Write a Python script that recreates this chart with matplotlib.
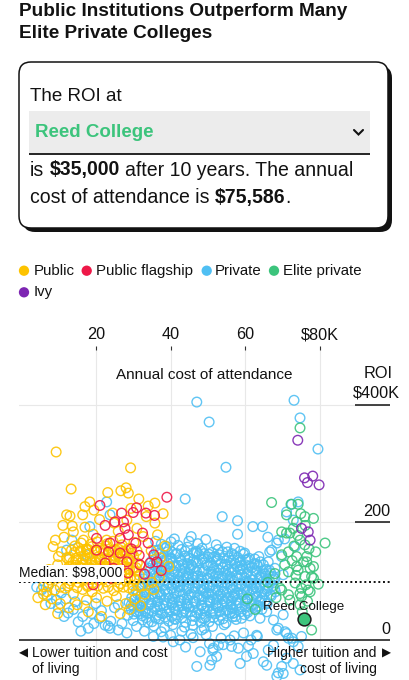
import matplotlib
matplotlib.use("Agg")
import matplotlib.pyplot as plt
from matplotlib.patches import FancyBboxPatch, Rectangle

plt.rcParams['font.family'] = ['Liberation Sans', 'DejaVu Sans']

# ---------------- data (annual cost $K, 10-year ROI $K) ----------------
x_ticks = [20, 40, 60, 80]
x_tick_labels = ['20', '40', '60', '$80K']
median_roi = 98
reed_cost = 75.6
reed_roi = 35

public_cost = [
    9.4, 29.3, 13.4, 23.2, 26.7, 28.7, 28.1, 18.4, 17.1, 16.5,
    19.5, 24.5, 29.4, 35.8, 13.1, 13.7, 14.0, 17.1, 19.3, 24.9,
    28.3, 32.7, 35.8, 36.5, 16.7, 14.4, 17.6, 22.9, 33.5, 31.0,
    38.5, 37.2, 39.5, 34.8, 21.0, 26.0, 11.5, 10.8, 12.2, 9.8,
    11.0, 8.5, 7.2, 9.0, 6.0, 8.2, 10.5, 12.8, 15.0, 17.5,
    20.2, 23.0, 25.5, 28.0, 30.5, 33.0, 35.5, 14.0, 11.8, 16.5,
    19.0, 22.0, 24.8, 27.4, 30.0, 32.5, 35.0, 37.0, 13.0, 18.0,
    21.5, 26.5, 29.0, 32.0, 6.5, 4.5, 9.8, 31.5, 34.0, 38.0,
    8.6, 10.0, 7.8, 6.9, 6.0, 12.2, 9.2, 7.5, 11.2, 10.2,
    13.2, 15.4, 16.9, 19.1, 20.6, 22.8, 24.3, 26.6, 28.1, 30.4,
    12.4, 14.1, 16.3, 18.0, 20.2, 21.7, 23.9, 25.5, 27.8, 29.3, 31.6,
    13.7, 15.2, 17.6, 19.0, 21.4, 23.0, 25.1, 26.8, 29.0, 30.6,
    12.8, 14.6, 16.2, 18.7, 20.1, 22.5, 24.0, 26.3, 27.9, 30.0, 31.9,
    13.9, 15.9, 17.4, 19.8, 21.2, 23.5, 25.0, 27.3, 28.9, 31.1,
    13.0, 14.8, 17.0, 18.5, 20.8, 22.4, 24.7, 26.1, 28.5, 30.1,
    14.3, 16.0, 18.2, 19.7, 22.0, 23.6, 25.8, 27.4, 29.6,
    15.3, 17.5, 19.0, 21.3, 22.9, 25.2, 26.7, 28.9,
    16.1, 18.6, 20.4, 23.1, 24.6, 27.0, 30.2,
    14.5, 17.9, 21.9, 25.9, 29.9, 16.5, 20.0, 24.0, 28.0, 31.0,
    14.0, 16.0, 18.2, 20.0, 22.0, 24.0, 26.0, 28.5, 30.5,
    12.5, 14.5, 16.8, 18.6, 20.6, 22.6, 24.6, 26.5, 28.6, 30.8,
    12.8, 14.9, 16.6, 18.9, 21.0, 22.9, 25.0, 26.9, 29.0,
    13.5, 15.9, 18.0, 20.2, 22.2, 24.2, 26.2, 28.1,
    10.5, 12.5, 15.0, 17.8, 20.5, 23.3, 26.0, 28.8, 31.5,
]
public_roi = [
    320, 293, 257, 251, 254, 250, 259, 235, 227, 213,
    221, 216, 224, 233, 211, 194, 184, 192, 180, 199,
    204, 176, 199, 179, 170, 160, 153, 170, 210, 190,
    160, 140, 125, 152, 205, 185, 175, 150, 140, 128,
    118, 105, 92, 85, 78, 70, 62, 55, 60, 68,
    72, 66, 74, 62, 70, 78, 86, 78, 88, 86,
    82, 88, 84, 90, 84, 92, 98, 106, 96, 48,
    40, 45, 52, 58, 60, 72, 45, 240, 228, 215,
    159, 142, 102, 82, 91, 213, 170, 120, 195, 110,
    101, 98, 103, 97, 102, 99, 104, 96, 100, 103,
    109, 112, 107, 111, 108, 113, 106, 110, 112, 107, 110,
    117, 120, 115, 119, 116, 121, 118, 114, 120, 117,
    125, 127, 123, 128, 124, 126, 122, 128, 125, 123, 127,
    133, 131, 135, 132, 136, 130, 134, 132, 136, 131,
    141, 139, 143, 140, 142, 138, 144, 141, 139, 143,
    149, 151, 147, 152, 148, 150, 146, 151, 148,
    157, 155, 159, 156, 160, 154, 158, 156,
    165, 163, 167, 164, 168, 162, 166,
    105, 93, 112, 119, 93, 128, 133, 138, 146, 152,
    104, 106, 103, 105, 104, 107, 103, 105, 104,
    121, 123, 120, 122, 121, 124, 120, 122, 121, 123,
    137, 136, 138, 135, 137, 136, 138, 135, 137,
    153, 152, 154, 151, 153, 152, 154, 152,
    90, 92, 89, 91, 92, 90, 91, 89, 91,
]

flagship_cost = [
    39.0, 21.1, 30.9, 33.4, 35.7, 26.9, 22.5, 20.2, 20.2, 23.4,
    26.5, 27.8, 25.1, 28.7, 30.7, 34.0, 31.6, 28.3, 31.8, 34.5,
    36.3, 24.7, 26.5, 22.5, 19.3, 28.6, 24.0, 33.0, 30.0, 27.4,
    29.5, 32.5, 37.5, 35.5, 23.8,
]
flagship_roi = [
    243, 229, 225, 216, 212, 216, 195, 173, 153, 150,
    173, 190, 201, 179, 165, 165, 144, 133, 128, 131,
    133, 122, 148, 131, 94, 114, 105, 112, 217, 201,
    155, 182, 118, 145, 165,
]

private_cost = [
    # upper scattered
    47.0, 73.0, 50.3, 74.6, 79.4, 54.8, 72.4, 74.1, 62.0, 64.6,
    43.9, 53.8, 57.9, 57.9, 66.0, 22.9, 23.8, 18.4, 13.6, 12.2,
    17.6, 36.7, 39.0, 68.4, 70.5, 66.5, 36.0, 71.0, 72.8, 73.3,
    67.0, 66.1, 68.8, 69.7, 67.9, 70.1, 67.5, 65.2, 41.0, 45.5,
    # lower left
    12.6, 23.8, 21.0, 15.3, 18.9, 26.0, 23.3, 28.3, 30.9, 8.0,
    10.0, 11.5, 14.0, 16.5, 17.0, 19.5, 21.5, 24.0, 25.0, 27.0,
    28.5, 30.0, 31.5, 33.0, 7.0, 9.5, 12.0, 5.5, 14.5, 26.0,
    29.5, 32.0, 34.0, 20.0, 22.5, 18.0, 16.0, 7.5, 10.8, 4.2,
    # bottom
    47.0, 50.5, 52.3, 58.6, 60.3, 65.7, 68.8, 68.4, 69.7, 71.0,
    72.8, 74.6, 74.1, 71.5, 75.0, 68.4, 70.6, 72.8, 67.5, 63.0,
    60.8, 58.1, 55.9, 52.8, 51.4, 47.9, 40.7, 38.0, 35.4, 51.0,
    51.3, 54.1, 50.4, 56.3, 63.2, 42.5, 45.5, 48.3, 62.1, 66.1,
    64.8, 70.1, 63.0, 65.7, 63.9, 67.5, 70.1, 68.8, 71.0, 72.4,
    37.5, 40.0, 43.0, 46.0, 49.5, 53.5, 57.0, 59.5, 61.5, 44.0,
    # dense core
    37.5, 40.1, 42.0, 44.9, 47.3, 49.4, 52.2, 55.0,
    36.2, 38.6, 40.3, 42.9, 44.5, 46.9, 48.4, 51.0, 52.7, 55.3, 57.1, 59.8,
    35.6, 37.3, 39.9, 41.3, 43.8, 45.1, 47.6, 49.0, 51.5, 53.0, 55.6, 57.0, 59.5, 61.0, 63.6,
    34.9, 36.6, 38.9, 40.6, 42.8, 44.5, 46.8, 48.4, 50.7, 52.3, 54.6, 56.2, 58.5, 60.1, 62.4, 64.0,
    34.1, 36.0, 38.3, 39.9, 42.2, 43.8, 46.1, 47.7, 50.0, 51.6, 53.9, 55.5, 57.8, 59.4, 61.7, 63.3, 65.6,
    33.3, 35.6, 37.0, 39.5, 40.9, 43.4, 44.8, 47.3, 48.7, 51.2, 52.6, 55.1, 56.5, 59.0, 60.4, 62.9, 64.3, 66.8,
    32.7, 34.4, 36.8, 38.3, 40.7, 42.2, 44.6, 46.1, 48.5, 50.0, 52.4, 53.9, 56.3, 57.8, 60.2, 61.7, 64.1, 65.6, 67.9,
    31.9, 34.1, 35.6, 38.1, 39.5, 42.0, 43.4, 45.9, 47.3, 49.8, 51.2, 53.7, 55.1, 57.6, 59.0, 61.5, 62.9, 65.4, 67.2,
    30.8, 33.1, 34.5, 37.0, 38.4, 40.9, 42.3, 44.8, 46.2, 48.7, 50.1, 52.6, 54.0, 56.5, 57.9, 60.4, 61.8, 64.3, 65.8, 68.0,
    29.6, 31.9, 33.3, 35.8, 37.2, 39.7, 41.1, 43.6, 45.0, 47.5, 48.9, 51.4, 52.8, 55.3, 56.7, 59.2, 60.6, 63.1, 64.5, 66.9,
    28.9, 31.0, 32.7, 34.9, 36.6, 38.8, 40.5, 42.7, 44.4, 46.6, 48.3, 50.5, 52.2, 54.4, 56.1, 58.3, 60.0, 62.2, 63.9, 65.8,
    29.5, 31.8, 33.2, 35.7, 37.1, 39.6, 41.0, 43.5, 44.9, 47.4, 48.8, 51.3, 52.7, 55.2, 56.6, 59.1, 60.5, 63.0, 64.4,
    30.2, 32.5, 33.9, 36.4, 37.8, 40.3, 41.7, 44.2, 45.6, 48.1, 49.5, 52.0, 53.4, 55.9, 57.3, 59.8, 61.2,
    32.5, 35.0, 36.8, 39.5, 41.3, 44.0, 45.8, 48.5, 50.3, 53.0, 54.8, 57.5,
    35.5, 38.4, 40.6, 43.7, 45.9, 49.0, 51.2, 54.3,
    38.0, 41.5, 45.5, 49.0, 53.0, 57.0, 61.0, 43.0, 50.5, 58.5,
    36.5, 47.0, 55.0, 63.0, 40.0, 52.0, 60.0, 44.5, 48.0, 56.5,
    # dense core, second layer
    37.0, 39.2, 41.8, 43.9, 46.0, 48.0, 50.2, 53.9, 56.4, 58.6,
    36.0, 38.2, 40.2, 42.5, 44.6, 46.2, 48.9, 50.1, 52.6, 54.3, 56.8, 58.0, 60.6, 62.5,
    35.3, 37.6, 39.4, 41.5, 43.4, 45.6, 47.3, 49.6, 51.3, 53.4, 55.2, 57.2, 59.0, 61.1, 63.0, 64.8,
    34.5, 36.9, 38.8, 41.0, 42.9, 45.0, 46.9, 49.0, 50.8, 52.9, 54.7, 56.8, 58.6, 60.7, 62.5, 64.6, 66.4,
    33.9, 36.2, 38.0, 40.1, 42.0, 44.1, 46.0, 48.1, 49.9, 52.0, 53.8, 55.9, 57.7, 59.8, 61.6, 63.7, 65.5, 67.4,
    33.0, 35.2, 37.1, 39.2, 41.1, 43.2, 45.1, 47.2, 49.0, 51.1, 52.9, 55.0, 56.8, 58.9, 60.7, 62.8, 64.6, 66.6,
    32.2, 34.4, 36.3, 38.5, 40.3, 42.5, 44.3, 46.5, 48.2, 50.4, 52.1, 54.3, 56.0, 58.2, 59.9, 62.1, 63.8, 66.0, 67.8,
    31.2, 33.4, 35.3, 37.5, 39.3, 41.5, 43.3, 45.5, 47.2, 49.4, 51.1, 53.3, 55.0, 57.2, 58.9, 61.1, 62.8, 65.0, 66.7,
    30.2, 32.4, 34.3, 36.5, 38.3, 40.5, 42.3, 44.5, 46.2, 48.4, 50.1, 52.3, 54.0, 56.2, 57.9, 60.1, 61.8, 64.0, 65.3,
    30.0, 32.2, 34.1, 36.3, 38.1, 40.3, 42.1, 44.3, 46.0, 48.2, 49.9, 52.1, 53.8, 56.0, 57.7, 59.9, 61.6, 63.5,
    31.0, 33.2, 35.1, 37.3, 39.1, 41.3, 43.1, 45.3, 47.0, 49.2, 50.9, 53.1, 54.8, 57.0, 58.7, 60.6,
    33.5, 36.0, 38.5, 41.0, 43.0, 46.5, 49.0, 51.5, 54.0, 56.5, 59.0,
]
private_roi = [
    405, 408, 371, 378, 325, 294, 231, 235, 193, 193,
    240, 210, 203, 180, 175, 235, 213, 193, 170, 153,
    145, 153, 159, 165, 172, 150, 168, 218, 204, 159,
    153, 133, 170, 142, 122, 111, 102, 113, 172, 176,
    46, 20, 37, 31, 45, 17, 24, 12, 23, 62,
    55, 40, 52, 40, 58, 28, 50, 32, 55, 28,
    42, 33, 50, 15, 75, 68, 70, 85, 65, 60,
    60, 45, 30, 62, 25, 20, 15, 95, 80, 90,
    -45, -43, -28, -40, -28, -43, -56, -62, -45, -31,
    -40, -51, -11, 3, 6, 17, 14, -3, -9, 8,
    -10, -14, 0, -9, -14, -20, -3, 5, 6, -34,
    -17, -8, -6, -11, 6, 0, 10, 17, -23, -17,
    -37, -57, 57, 48, 37, 34, 43, 20, 11, 3,
    14, 8, 15, 4, 9, 3, 7, 12, 0, -12,
    163, 167, 161, 168, 164, 171, 162, 158,
    152, 156, 150, 154, 158, 151, 156, 149, 154, 150, 156, 148,
    142, 146, 140, 146, 143, 139, 145, 147, 141, 145, 140, 144, 146, 139, 142,
    134, 131, 136, 132, 135, 130, 133, 137, 131, 134, 129, 135, 132, 136, 130, 133,
    122, 125, 120, 124, 127, 121, 123, 119, 126, 122, 124, 120, 125, 121, 123, 126, 120,
    112, 115, 110, 114, 117, 111, 113, 109, 116, 112, 114, 110, 115, 111, 113, 116, 110, 114,
    104, 101, 106, 102, 105, 100, 103, 107, 101, 104, 99, 105, 102, 106, 100, 103, 107, 101, 104,
    92, 95, 90, 94, 97, 91, 93, 89, 96, 92, 94, 90, 95, 91, 93, 96, 90, 94, 92,
    84, 81, 86, 82, 85, 80, 83, 87, 81, 84, 79, 85, 82, 86, 80, 83, 87, 81, 84, 82,
    72, 75, 70, 74, 77, 71, 73, 69, 76, 72, 74, 70, 75, 71, 73, 76, 70, 74, 72, 75,
    64, 61, 66, 62, 65, 60, 63, 67, 61, 64, 59, 65, 62, 66, 60, 63, 67, 61, 64, 62,
    52, 55, 50, 54, 57, 51, 53, 49, 56, 52, 54, 50, 55, 51, 53, 56, 50, 54, 52,
    44, 41, 46, 42, 45, 40, 43, 47, 41, 44, 39, 45, 42, 46, 40, 43, 41,
    34, 31, 36, 32, 35, 30, 33, 37, 31, 34, 29, 35,
    24, 21, 26, 22, 25, 20, 23, 26,
    118, 97, 128, 88, 108, 78, 98, 58, 68, 120,
    78, 148, 62, 88, 138, 142, 128, 108, 30, 45,
    148, 150, 147, 151, 148, 152, 146, 150, 147, 151,
    138, 136, 139, 137, 140, 136, 138, 141, 137, 139, 136, 140, 137, 138,
    128, 127, 130, 126, 129, 127, 131, 128, 126, 129, 128, 130, 127, 126, 129, 128,
    118, 117, 119, 116, 118, 120, 117, 118, 116, 119, 117, 118, 120, 116, 118, 117, 119,
    108, 107, 109, 106, 108, 110, 107, 108, 106, 109, 107, 108, 110, 106, 108, 107, 109, 108,
    98, 97, 99, 96, 98, 100, 97, 98, 96, 99, 97, 98, 100, 96, 98, 97, 99, 98,
    88, 87, 89, 86, 88, 90, 87, 88, 86, 89, 87, 88, 90, 86, 88, 87, 89, 88, 87,
    78, 77, 79, 76, 78, 80, 77, 78, 76, 79, 77, 78, 80, 76, 78, 77, 79, 78, 77,
    68, 67, 69, 66, 68, 70, 67, 68, 66, 69, 67, 68, 70, 66, 68, 67, 69, 68, 67,
    58, 57, 59, 56, 58, 60, 57, 58, 56, 59, 57, 58, 60, 56, 58, 57, 59, 58,
    48, 47, 49, 46, 48, 50, 47, 48, 46, 49, 47, 48, 50, 46, 48, 47,
    38, 37, 39, 36, 38, 40, 37, 38, 36, 39, 37,
]

elite_cost = [
    67.0, 72.2, 74.1, 71.0, 75.9, 78.2, 73.7, 81.3, 69.7, 71.9,
    74.6, 75.9, 71.5, 73.7, 75.5, 77.3, 74.1, 71.5, 75.9, 78.2,
    73.3, 75.0, 69.3, 76.8, 76.4, 73.7, 77.3, 75.0, 71.5, 69.7,
    77.7, 62.6, 67.9, 69.7, 71.0, 76.4, 78.2, 77.7, 76.2, 74.6,
    71.9, 74.6, 72.8, 76.0, 73.0, 78.8, 70.5, 77.0, 74.0, 72.5,
    66.0, 68.2, 75.2, 79.5, 73.5, 76.6, 60.5, 74.8, 74.6,
]
elite_roi = [
    234, 231, 231, 213, 210, 207, 201, 165, 184, 182,
    170, 162, 150, 142, 133, 122, 119, 116, 108, 105,
    97, 88, 88, 85, 133, 125, 82, 74, 77, 85,
    17, 52, 113, 145, 182, 142, 125, 108, 94, 79,
    68, 60, 190, 195, 160, 150, 128, 155, 178, 135,
    98, 72, 48, 95, 110, 66, 70, 215, 361,
]

ivy_cost = [74.0, 75.8, 78.0, 76.6, 79.7, 75.0, 76.8, 77.3]
ivy_roi = [340, 276, 279, 268, 264, 190, 184, 170]

legend_labels = ['Public', 'Public flagship', 'Private', 'Elite private', 'Ivy']

# ---------------- style ----------------
C_PUBLIC = '#fdc300'
C_FLAG = '#ee1848'
C_PRIV = '#4fbff3'
C_ELITE = '#3cc47c'
C_IVY = '#7d26b2'
INK = '#121212'

W, H = 410, 680
fig = plt.figure(figsize=(W / 100, H / 100), dpi=100)
fig.patch.set_facecolor('white')

ov = fig.add_axes([0, 0, 1, 1])
ov.set_xlim(0, W)
ov.set_ylim(H, 0)
ov.axis('off')
ov.set_zorder(3)
r = fig.canvas.get_renderer()


def width_of(s, size, weight='normal'):
    t = ov.text(0, 0, s, fontsize=size, fontweight=weight)
    w = t.get_window_extent(renderer=r).width
    t.remove()
    return w


def fit(s, target, weight='normal'):
    return 10 * target / width_of(s, 10, weight)


# ---------------- data axes ----------------
ax = fig.add_axes([19 / W, 0, 371 / W, 330 / H])
ax.set_zorder(1)
ax.set_xlim(-0.535, 98.66)
ax.set_ylim(-68.1, 493.6)
ax.patch.set_visible(False)
for s in ax.spines.values():
    s.set_visible(False)
ax.xaxis.tick_top()
tick_size = fit('$80K', 38)
ax.set_xticks(x_ticks, x_tick_labels)
ax.tick_params(axis='x', length=3, width=0.8, color='#333333', pad=2.5,
               labelsize=tick_size, labelcolor=INK)
ax.set_yticks([])
ax.grid(axis='x', color='#e8e8e8', lw=0.8)
ax.set_axisbelow(True)
for v in (200, 400):
    ax.axhline(v, color='#e8e8e8', lw=0.8, zorder=0)

kw = dict(s=48, facecolors='none', linewidths=1.0, alpha=0.9, zorder=2)
ax.scatter(private_cost, private_roi, edgecolors=C_PRIV, **kw)
ax.scatter(public_cost, public_roi, edgecolors=C_PUBLIC, **kw)
ax.scatter(flagship_cost, flagship_roi, edgecolors=C_FLAG, **kw)
ax.scatter(elite_cost, elite_roi, edgecolors=C_ELITE, **kw)
ax.scatter(ivy_cost, ivy_roi, edgecolors=C_IVY, **kw)

ax.axhline(median_roi, color=INK, lw=1.4, linestyle=(0, (1, 1.4)), zorder=4)
ax.axhline(0, color=INK, lw=1.1, zorder=4)
for v in (200, 400):
    ax.plot([89.3, 98.66], [v, v], color=INK, lw=1.1, zorder=4,
            solid_capstyle='butt')

ax.scatter([reed_cost], [reed_roi], s=85, c=C_ELITE, edgecolors='#1b1b1b',
           linewidths=1.1, zorder=6)
small = fit('Reed College', 81)
ax.text(reed_cost, reed_roi + 22, 'Reed College', ha='center', va='center',
        fontsize=small, color=INK, zorder=7)

# ---------------- overlay: title, box, legend, labels ----------------
tsize = fit('Public Institutions Outperform Many', 328, 'bold')
ov.text(19, 11.7, 'Public Institutions Outperform Many', fontsize=tsize,
        fontweight='bold', va='center', color=INK)
ov.text(19, 33.3, 'Elite Private Colleges', fontsize=tsize,
        fontweight='bold', va='center', color=INK)

ov.add_patch(FancyBboxPatch((23, 66), 369, 166,
                            boxstyle='round,pad=0,rounding_size=12',
                            fc=INK, ec='none'))
ov.add_patch(FancyBboxPatch((19, 62), 369, 166,
                            boxstyle='round,pad=0,rounding_size=12',
                            fc='white', ec=INK, lw=1.1))
ov.add_patch(Rectangle((29.5, 110.7), 340.5, 42.5, fc='#ececec', ec='none'))
ov.plot([29.5, 370], [153.8, 153.8], color=INK, lw=1.3, solid_capstyle='butt')
ov.plot([354, 358.5, 363], [130, 134.5, 130], color=INK, lw=1.5,
        solid_capstyle='round', solid_joinstyle='miter')

body = fit('The ROI at', 92)
ov.text(30, 96.7, 'The ROI at', fontsize=body, va='center', color=INK)
ov.text(35, 132.3, 'Reed College', fontsize=fit('Reed College', 119, 'bold'),
        fontweight='bold', va='center', color=C_ELITE)

space = width_of('a a', 10) - width_of('aa', 10)


def runs(x, y, pieces, size):
    sp = space * size / 10
    for s, weight, lead in pieces:
        if lead:
            x += sp
        t = ov.text(x, y, s, fontsize=size, fontweight=weight, va='center',
                    color=INK)
        x += t.get_window_extent(renderer=r).width


line3 = [('is', 'normal', False), ('$35,000', 'bold', True),
         ('after 10 years. The annual', 'normal', True)]
w10 = sum(width_of(s, 10, wt) for s, wt, _ in line3) + 2 * space
bsize = 10 * 325 / w10
runs(30, 170, line3, bsize)
runs(30, 197.3, [('cost of attendance is', 'normal', False),
                 ('$75,586', 'bold', True), ('.', 'normal', False)], bsize)

# legend
lsize = fit('Public flagship', 96.7)
leg = [(24, 270.7, C_PUBLIC, 33.3), (86.7, 270.7, C_FLAG, 96),
       (206.7, 270.7, C_PRIV, 215), (274, 270.7, C_ELITE, 283.3),
       (24, 292.3, C_IVY, 33.3)]
for (dx, dy, col, tx), lab in zip(leg, legend_labels):
    ov.scatter([dx], [dy], s=55, c=col, edgecolors='none')
    ov.text(tx, dy, lab, fontsize=lsize, va='center', color=INK)

# axis labels
ov.text(204.7, 375, 'Annual cost of attendance',
        fontsize=fit('Annual cost of attendance', 177), ha='center',
        va='center', color=INK)
ov.text(378, 373.3, 'ROI', fontsize=tick_size, ha='center', va='center', color=INK)
ov.text(376.7, 393.3, '$400K', fontsize=tick_size, ha='center', va='center', color=INK)
ov.text(390, 511, '200', fontsize=tick_size, ha='right', va='center', color=INK)
ov.text(390, 629, '0', fontsize=tick_size, ha='right', va='center', color=INK)

ov.text(19, 573.4, 'Median: $98,000', fontsize=fit('Median: $98,000', 103),
        va='center', color=INK,
        bbox=dict(fc='white', ec='none', pad=1.2))

bsz = fit('Lower tuition and cost', 135)
ov.text(18.5, 653.3, '\u25C0', fontsize=bsz * 0.85, va='center', color=INK,
        family=['DejaVu Sans'])
ov.text(31.7, 653.3, 'Lower tuition and cost', fontsize=bsz, va='center', color=INK)
ov.text(31.7, 668.5, 'of living', fontsize=bsz, va='center', color=INK)
ov.text(376.7, 653.3, 'Higher tuition and', fontsize=bsz, ha='right',
        va='center', color=INK)
ov.text(390.5, 653.3, '\u25B6', fontsize=bsz * 0.85, ha='right', va='center',
        color=INK, family=['DejaVu Sans'])
ov.text(376.7, 668.5, 'cost of living', fontsize=bsz, ha='right', va='center',
        color=INK)

fig.savefig('out.png', dpi=100, facecolor='white')
